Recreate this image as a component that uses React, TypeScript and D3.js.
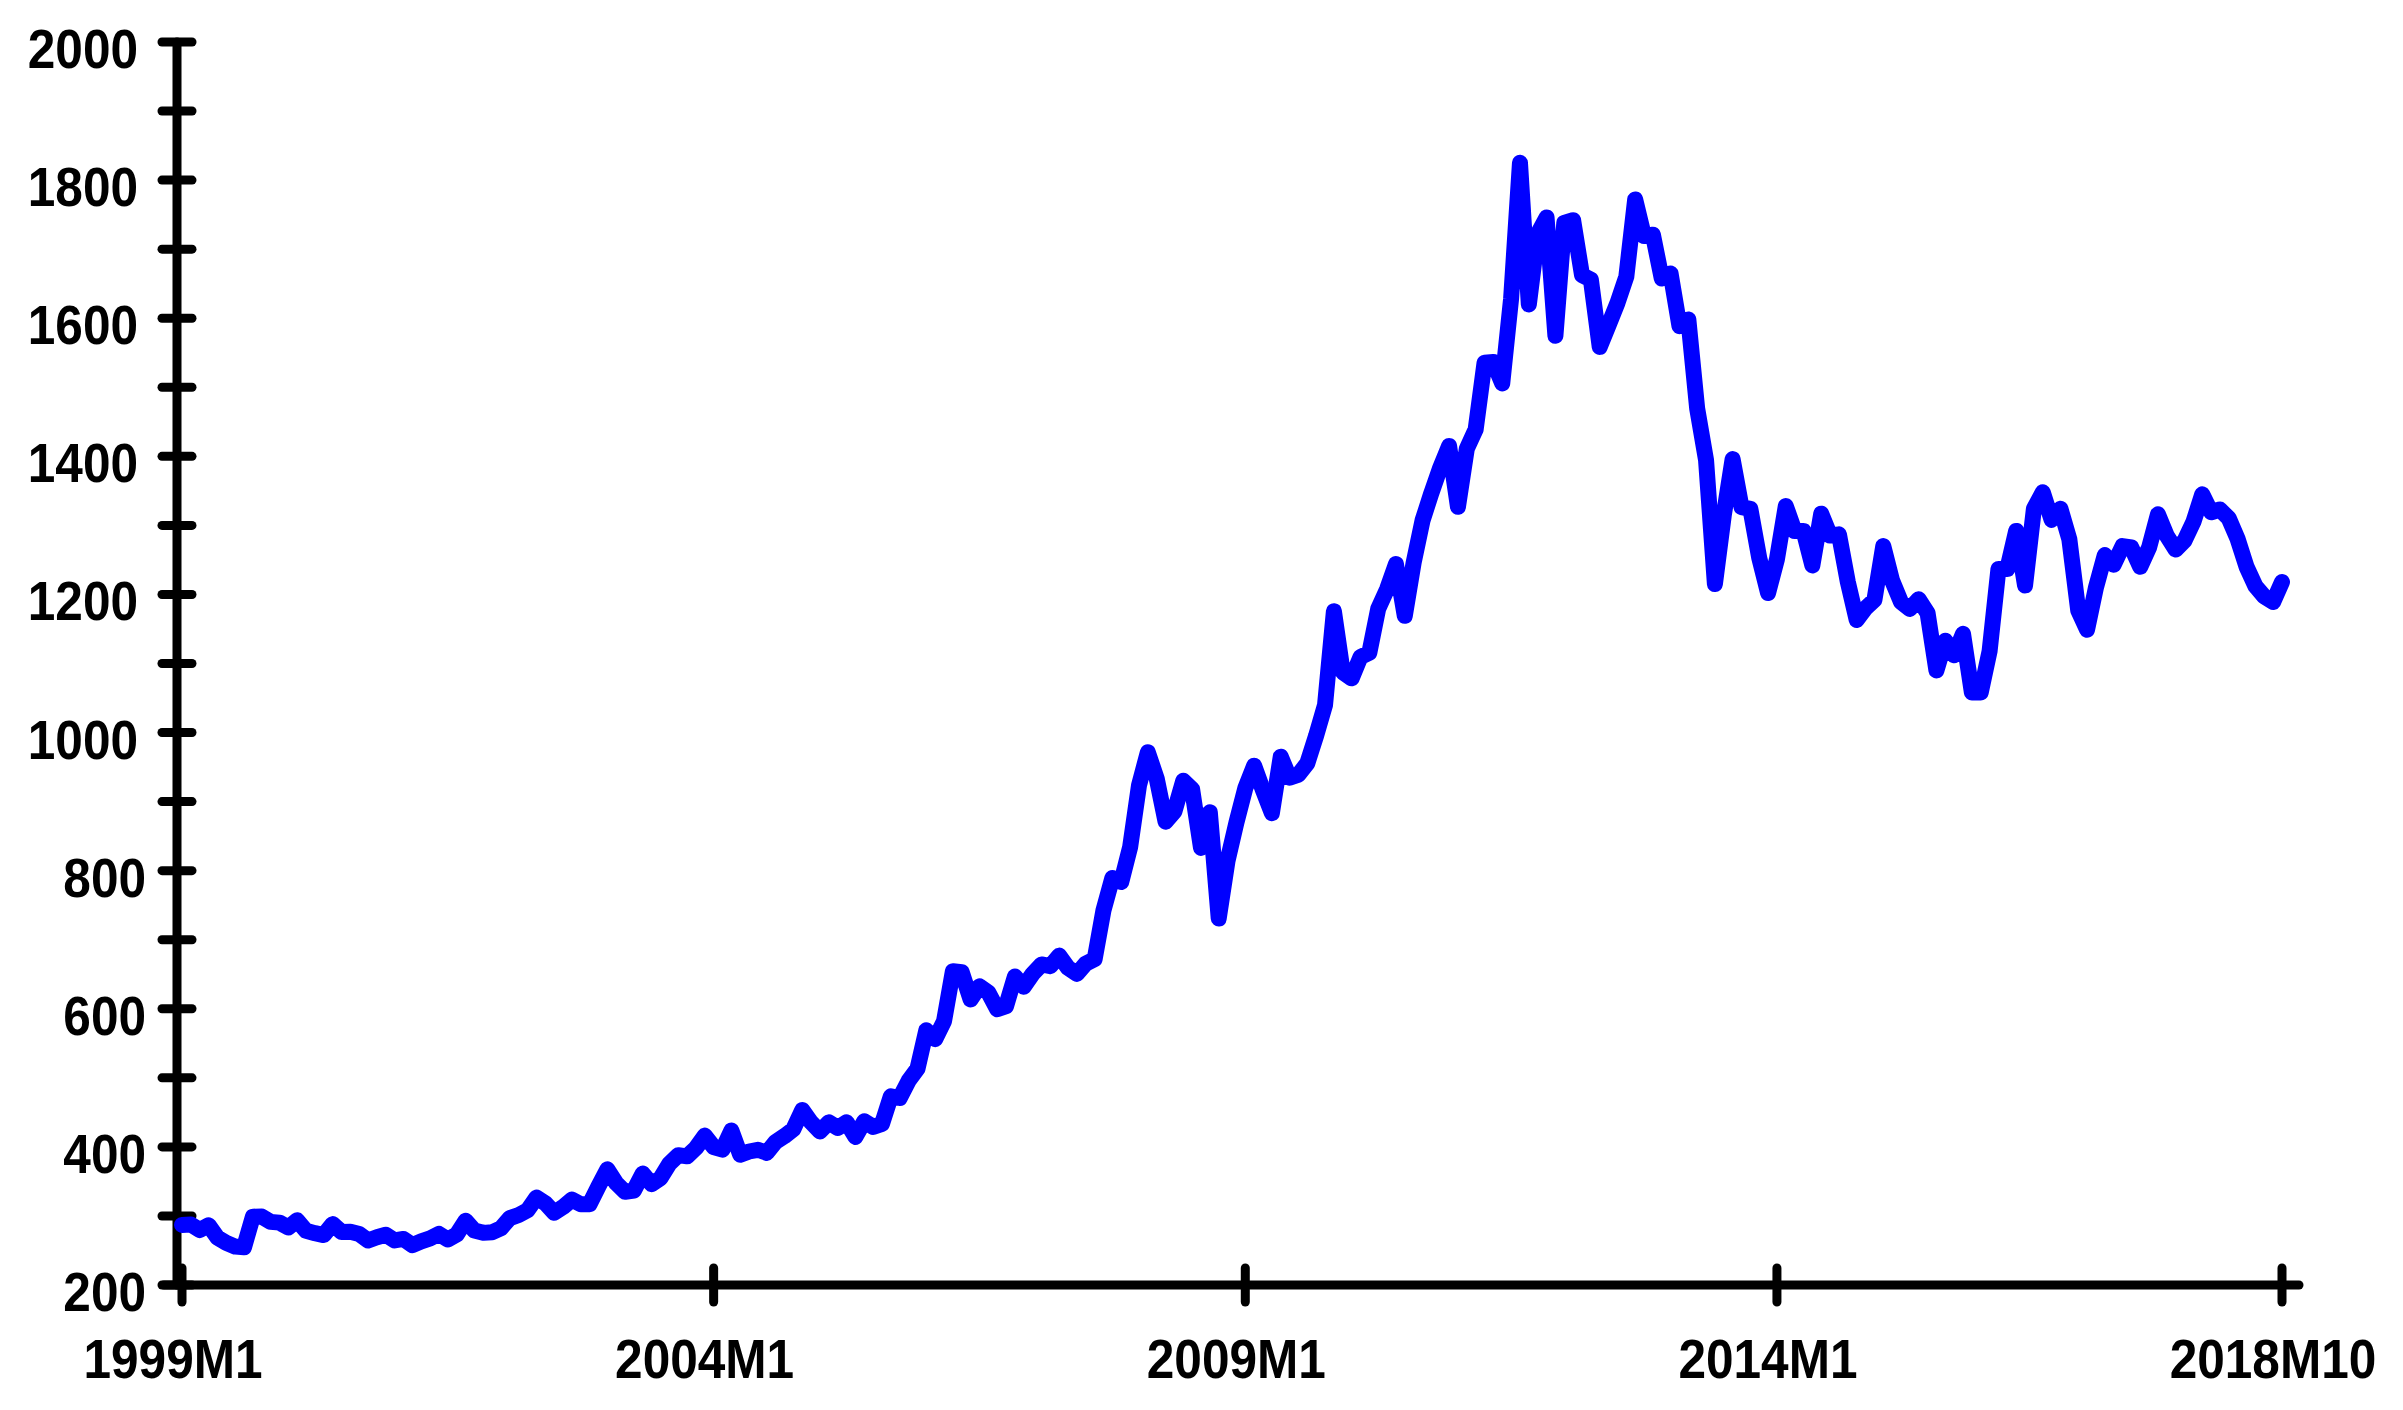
import React from 'react';
import * as d3 from 'd3';

// Month-end gold price (USD/oz)
const y1999 = [287, 287.6, 279.5, 286.6, 268.6, 261, 255.6, 254.8, 299, 299.1, 291.4, 290.3];
const y2000 = [283.3, 293.7, 278.4, 275.1, 272.3, 288.2, 276.8, 277, 273.7, 264.5, 269.1, 272.7];
const y2001 = [264.5, 266.7, 257.7, 263.2, 267.5, 274, 265.9, 273, 293.1, 278.8, 275.5, 276.5];
const y2002 = [282.3, 296.9, 301.4, 308.2, 326.6, 318.5, 304.7, 312.8, 323.7, 316.9, 317.1, 342.8];
const y2003 = [367.5, 347.5, 334.9, 336.8, 361.4, 346, 354.8, 375.6, 388, 386.3, 398.4, 416.3];
const y2004 = [399.8, 395.9, 423.7, 388.5, 393.3, 395.8, 391.4, 407.3, 415.7, 425.6, 453.4, 435.6];
const y2005 = [422.2, 435.5, 427.5, 435.7, 414.5, 437.1, 429, 433.3, 473.3, 470.8, 495.7, 513];
const y2006 = [568.8, 556, 582, 654.5, 653, 613.5, 632.5, 623.5, 599.3, 603.8, 646.7, 632];
const y2007 = [650.5, 664.2, 661.8, 677, 659.1, 650.5, 665.5, 672, 743, 789.5, 783.5, 833.8];
const y2008 = [923.3, 971.5, 933.5, 871, 885.8, 930.3, 918, 833, 884.5, 730.8, 814.5, 869.8];
const y2009 = [919.5, 952, 916.5, 883.3, 965, 934.5, 939, 955.5, 995.8, 1040, 1175.8, 1087.5];
const y2010 = [1078.5, 1109.5, 1115.5, 1179.3, 1207.5, 1244, 1169, 1246, 1307, 1346.8, 1383.5, 1415];
const y2011 = [1327, 1411, 1439, 1535.5, 1536.5, 1505.5, 1628.5, 1825, 1620, 1722, 1746, 1574.5];
const y2012 = [1738, 1742, 1662.5, 1656, 1558.5, 1590, 1622, 1660, 1772, 1719, 1721, 1657.5];
const y2013 = [1664.8, 1588.5, 1598.3, 1469, 1394.5, 1215, 1314.5, 1396, 1326.5, 1324, 1253, 1202];
const y2014 = [1251, 1328, 1291.8, 1292, 1242, 1317, 1285.3, 1287, 1218, 1163, 1180, 1192];
const y2015 = [1270, 1220, 1189, 1179, 1193, 1173, 1090, 1133, 1112, 1143, 1058, 1058];
const y2016 = [1118, 1237, 1237, 1292, 1213, 1324, 1348, 1308, 1324, 1280, 1177, 1149];
const y2017 = [1210, 1257, 1243, 1270, 1268, 1240, 1268, 1316, 1285, 1265, 1278, 1305];
const y2018 = [1345, 1319, 1323, 1310, 1280, 1240, 1212, 1197, 1189, 1218];

const series: number[] = [
  ...y1999, ...y2000, ...y2001, ...y2002, ...y2003, ...y2004, ...y2005,
  ...y2006, ...y2007, ...y2008, ...y2009, ...y2010, ...y2011, ...y2012,
  ...y2013, ...y2014, ...y2015, ...y2016, ...y2017, ...y2018,
];

const startYear = 1999;
const categories = series.map((_, i) => `${startYear + Math.floor(i / 12)}M${(i % 12) + 1}`);

const xTickLabels = ['1999M1', '2004M1', '2009M1', '2014M1', '2018M10'];
const yMajorTicks = [200, 400, 600, 800, 1000, 1200, 1400, 1600, 1800, 2000];
const yMinorTicks = [300, 500, 700, 900, 1100, 1300, 1500, 1700, 1900];

export default function App() {
  const W = 2403;
  const H = 1410;
  const x = d3.scalePoint<string>().domain(categories).range([182, 2282]);
  const y = d3.scaleLinear().domain([200, 2000]).range([1285, 42]);
  const axisX = 177;
  const axisY = y(200);

  const lineGen = d3
    .line<number>()
    .x((_, i) => x(categories[i]) as number)
    .y((d) => y(d));

  const font = {
    fontFamily: '"Liberation Sans", Arial, Helvetica, sans-serif',
    fontWeight: 700,
    fontSize: 56,
    fill: '#000',
  } as const;
  const sx = 0.885;

  const allYTicks = [...yMajorTicks, ...yMinorTicks];

  return (
    <svg
      width={W}
      height={H}
      style={{ position: 'absolute', left: 0, top: 0, background: '#fff' }}
    >
      <rect x={0} y={0} width={W} height={H} fill="#fff" />
      <g stroke="#000" strokeWidth={9} strokeLinecap="round">
        <line x1={axisX} x2={axisX} y1={y(2000)} y2={axisY} />
        <line x1={164} x2={2299} y1={axisY} y2={axisY} />
        {allYTicks.map((t) => (
          <line key={'yt' + t} x1={axisX - 15} x2={axisX + 15} y1={y(t)} y2={y(t)} />
        ))}
        {xTickLabels.map((c) => (
          <line key={'xt' + c} x1={x(c)} x2={x(c)} y1={axisY - 17} y2={axisY + 17} />
        ))}
      </g>
      <path
        d={lineGen(series) || ''}
        fill="none"
        stroke="#0000FF"
        strokeWidth={16}
        strokeLinejoin="round"
        strokeLinecap="round"
      />
      {yMajorTicks.map((t) => (
        <text
          key={'yl' + t}
          {...font}
          textAnchor="end"
          transform={`translate(${t >= 1000 ? 138 : 146}, ${y(t) + 26}) scale(${sx}, 1)`}
        >
          {t}
        </text>
      ))}
      {xTickLabels.map((c) => (
        <text
          key={'xl' + c}
          {...font}
          textAnchor="middle"
          transform={`translate(${(x(c) as number) - 9}, 1378) scale(${sx}, 1)`}
        >
          {c}
        </text>
      ))}
    </svg>
  );
}
